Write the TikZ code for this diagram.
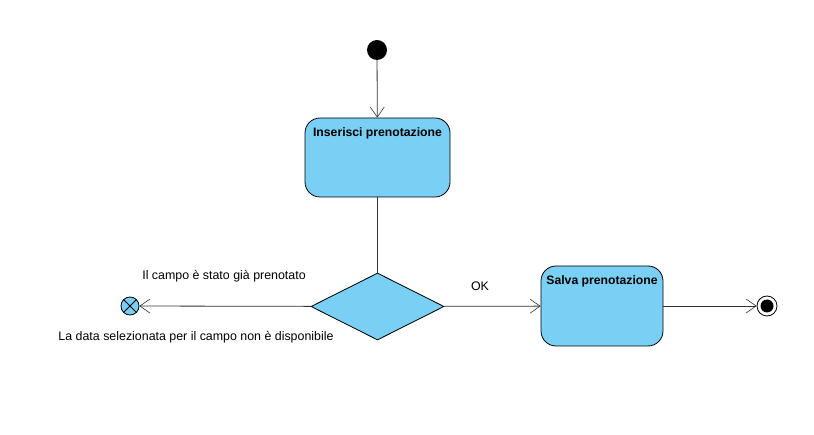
\documentclass[tikz,border=0pt]{standalone}
\usepackage{fontspec}
\setmainfont{Liberation Sans}
\usepackage{tikz}
\usetikzlibrary{arrows.meta, shapes.geometric}
\definecolor{statecolor}{RGB}{122,207,245}
\definecolor{linecolor}{RGB}{50,50,50}

\begin{document}
\begin{tikzpicture}[
      % GLOBAL CFG
      x=1pt, y=-1pt,
      font=\fontsize{12.4}{14}\selectfont,
      >={Straight Barb[length=10pt, width=14pt, line width=0.6pt]},
      % Styles
      state/.style={% For actions
        rectangle,
        rounded corners=15pt,
        draw,
        thick,
        fill=statecolor
      },
      statelabel/.style={% Title inside an action
        anchor=north,
        yshift=-7pt,
        font=\fontsize{12.2}{14}\selectfont\bfseries
      },
      decision/.style={% For the choice
        diamond,
        draw,
        thick,
        fill=statecolor,
        minimum width=133pt,
        minimum height=67pt,
        inner sep=0pt
      },
      startnode/.style={
        circle,
        fill=black,
        minimum size=20pt,
        inner sep=0pt
      },
      flowend/.style={
        circle,
        draw,
        thick,
        fill=statecolor,
        minimum size=18pt,
        inner sep=0pt,
        path picture={
          \draw (path picture bounding box.north west) -- (path picture bounding box.south east);
          \draw (path picture bounding box.south west) -- (path picture bounding box.north east);
        }
      },
      endnode/.style={
        circle,
        draw,
        thick,
        fill=white,
        minimum size=20pt,
        inner sep=0pt,
        path picture={\fill[black] (path picture bounding box.center) circle (6.5pt);}
      },
      arrowflow/.style={% Arrows for transitions
        linecolor,
        thick,
        ->
      },
      guard/.style={% Texts on transitions
        inner sep=0pt
      }
      ]
      \useasboundingbox (0,0) rectangle (814,435);

      % Start and first action
      \node [startnode] (start) at (377,50) {};
      \node [state, minimum width=145pt, minimum height=79pt,
        label={[statelabel]north:Inserisci prenotazione}] (insert) at (377.5,157.5) {};
      \draw [arrowflow] (start) -- (insert);

      % Choice
      \node [decision] (check) at (377.5,306.5) {};
      \draw [arrowflow, -] (insert) -- (check);

      % Refused branch
      \node [flowend] (refused) at (130,306) {};
      \draw [arrowflow] (check) -- (refused);
      \node [guard] (busy) at (224,276) {Il campo è stato già prenotato};
      \node [guard] (nodate) at (196,337) {La data selezionata per il campo non è disponibile};

      % Accepted branch
      \node [state, minimum width=122pt, minimum height=80pt,
        label={[statelabel]north:Salva prenotazione}] (save) at (602,306) {};
      \draw [arrowflow] (check) -- (save);
      \node [guard] (ok) at (480,286) {OK};

      \node [endnode] (stop) at (767,306) {};
      \draw [arrowflow] (save) -- (stop);

    \end{tikzpicture}
\end{document}
